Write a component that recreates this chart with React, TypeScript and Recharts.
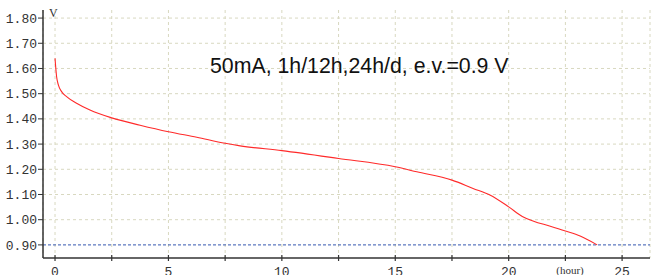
import React from 'react';
import {
  LineChart,
  Line,
  XAxis,
  YAxis,
  CartesianGrid,
  ReferenceLine,
  Customized,
} from 'recharts';

// discharge curve
const hours = [0, 0.07, 0.15, 0.29, 0.51, 0.95, 1.54, 2.5, 3.75, 5, 6.25, 7.5, 8.16, 10, 12.5, 15, 15.95, 17.5, 18.43, 19.17, 20, 20.6, 21.1, 21.8, 22.5, 23.15, 23.9];
const volts = [1.64, 1.567, 1.534, 1.508, 1.488, 1.462, 1.435, 1.404, 1.375, 1.349, 1.327, 1.303, 1.293, 1.274, 1.243, 1.21, 1.19, 1.157, 1.124, 1.098, 1.051, 1.013, 0.994, 0.975, 0.955, 0.935, 0.9];

const xTicks = [0, 2.5, 5, 7.5, 10, 12.5, 15, 17.5, 20, 22.5, 25];
const yTicks = [0.9, 1.0, 1.1, 1.2, 1.3, 1.4, 1.5, 1.6, 1.7, 1.8];
const endVoltage = 0.9;
const title = '50mA, 1h/12h,24h/d, e.v.=0.9 V';

const data = hours.map((t, i) => ({ t, v: volts[i] }));

const AXIS = '#333';
const MONO = '"Liberation Mono", "DejaVu Sans Mono", monospace';

const XTick = ({ x, y, payload }: any) => {
  const val = payload.value;
  const showLabel = val % 5 === 0;
  return (
    <g>
      <line x1={x} x2={x} y1={y - 3} y2={y + 3} stroke={AXIS} strokeWidth={1.2} />
      {showLabel && (
        <text x={x} y={y + 18} textAnchor="middle" fontFamily={MONO} fontSize={13} fill={AXIS}>
          {val}
        </text>
      )}
    </g>
  );
};

const Extras = () => (
  <g>
    <text x={210} y={73} fontFamily='"Liberation Sans", Arial, sans-serif' fontSize={21.3} fill="#111">
      {title}
    </text>
    <text x={49} y={17} fontFamily='"Liberation Serif", serif' fontSize={12} fill={AXIS}>
      V
    </text>
    <text x={570} y={274} textAnchor="middle" fontFamily='"Liberation Serif", serif' fontSize={11} fill={AXIS}>
      (hour)
    </text>
  </g>
);

export default function App() {
  return (
    <div style={{ position: 'absolute', left: 0, top: 0, background: '#fff' }}>
      <LineChart
        width={656}
        height={275}
        data={data}
        margin={{ top: 10, right: 6, left: 0, bottom: 0 }}
      >
        <CartesianGrid
          stroke="#d8d8c0"
          strokeDasharray="3 3"
          horizontalValues={yTicks.filter((y) => y !== endVoltage)}
        />
        <XAxis
          type="number"
          dataKey="t"
          domain={[-0.53, 26.23]}
          ticks={xTicks}
          interval={0}
          allowDataOverflow
          height={17}
          tickSize={0}
          tickMargin={0}
          tickLine={false}
          tick={<XTick />}
          axisLine={{ stroke: AXIS, strokeWidth: 1.5 }}
        />
        <YAxis
          type="number"
          domain={[0.848, 1.832]}
          ticks={yTicks}
          interval={0}
          allowDataOverflow
          width={43}
          tickSize={5}
          tickMargin={1}
          tickFormatter={(v: number) => v.toFixed(2)}
          tick={{ fill: AXIS, fontFamily: MONO, fontSize: 13 }}
          tickLine={{ stroke: AXIS }}
          axisLine={{ stroke: AXIS, strokeWidth: 1.5 }}
        />
        <ReferenceLine y={endVoltage} stroke="#3558b0" strokeDasharray="3 2" />
        <Line
          type="monotone"
          dataKey="v"
          stroke="#ff2a2a"
          strokeWidth={1.1}
          dot={false}
          isAnimationActive={false}
        />
        <Customized component={<Extras />} />
      </LineChart>
    </div>
  );
}
